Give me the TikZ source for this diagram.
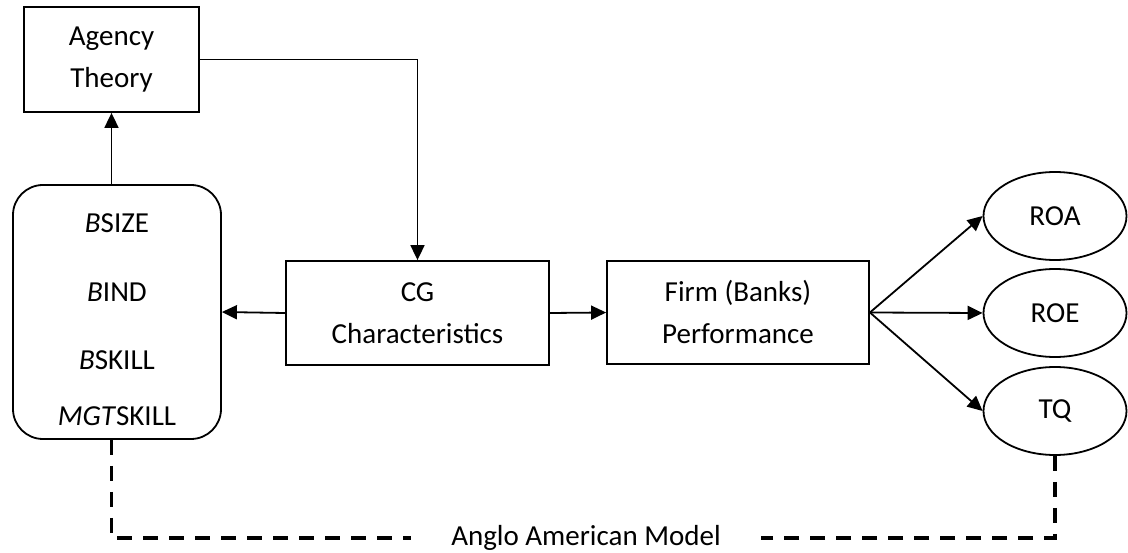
\documentclass[tikz,border=0pt]{standalone}
\usepackage{fontspec}
\setmainfont{Carlito}
\usepackage{tikz}
\usetikzlibrary{arrows.meta,shapes.geometric}

\begin{document}
\begin{tikzpicture}[x=1pt,y=-1pt,
	font=\fontsize{29}{42}\selectfont,
	box/.style={draw,line width=1.8pt,align=center,inner sep=0pt},
	oval/.style={draw,ellipse,line width=1.8pt,minimum width=143pt,minimum height=88pt,inner sep=0pt},
	arr/.style={line width=1.8pt,-{Triangle[length=15pt,width=14pt]}},
	dashline/.style={line width=3.8pt,dash pattern=on 15pt off 11pt}]
			\useasboundingbox (0,0) rectangle (1128,553);
			\node[box,minimum width=175pt,minimum height=105pt](agency)at(111.5,59.5){Agency\\Theory};
			\node[box,rounded corners=30pt,minimum width=208pt,minimum height=254pt](board)at(117,312){};
			\node(bsize)at(117,223){\textit{B}SIZE};
			\node(bind)at(117,292){\textit{B}IND};
			\node(bskill)at(117,360){\textit{B}SKILL};
			\node(mgtskill)at(117,416){\textit{MGT}SKILL};
			\node[box,minimum width=263pt,minimum height=104pt](cg)at(417.5,313){CG\\Characteristics};
			\node[box,minimum width=262pt,minimum height=103pt](firm)at(738,312.5){Firm (Banks)\\Performance};
			\node[oval](roa)at(1055,216){ROA};
			\node[oval](roe)at(1055,313){ROE};
			\node[oval](tq)at(1055,411){TQ};
			\node[inner xsep=40pt](anglo)at(586,538){Anglo American Model};
			\draw[arr](board.north -| agency.south)--(agency.south);
			\draw[arr](agency.east)-|(cg.north);
			\draw[arr](cg.west)--(board.east);
			\draw[arr](cg.east)--(firm.west);
			\draw[arr](firm.east)--(roa.west);
			\draw[arr](firm.east)--(roe.west);
			\draw[arr](firm.east)--(tq.west);
			\draw[dashline](board.south -| agency.south)|-(anglo.west);
			\draw[dashline](tq.south)|-(anglo.east);
		\end{tikzpicture}
\end{document}
